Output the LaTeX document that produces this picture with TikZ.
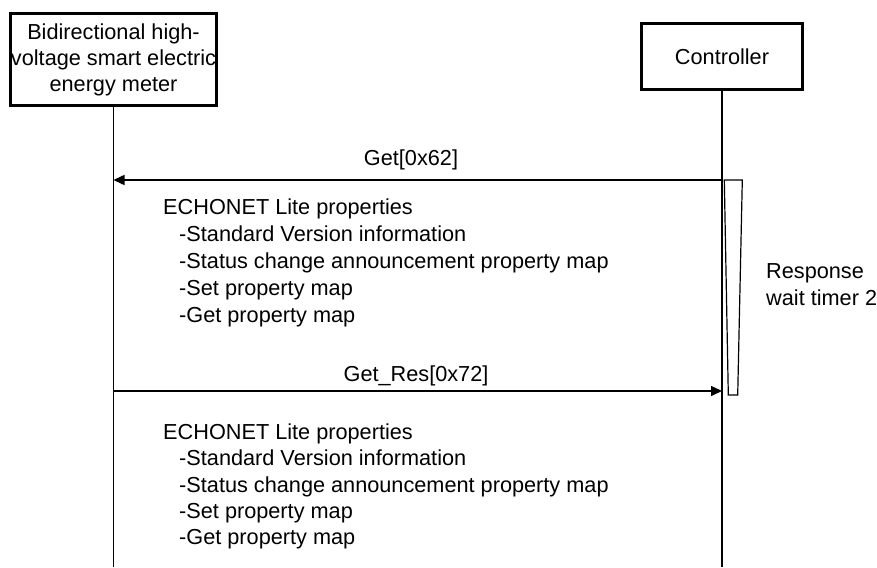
\documentclass[tikz,border=0pt]{standalone}
\usepackage{fontspec}
\setmainfont{Liberation Sans}
\usetikzlibrary{arrows.meta}
\begin{document}
\begin{tikzpicture}[x=1pt,y=-1pt,
  font=\fontsize{21.7}{26}\selectfont,
  actor/.style={draw,line width=3.3pt,inner sep=0pt,align=center},
  life/.style={line width=1.3pt},
  msg/.style={line width=1.5pt,-{Triangle[length=11pt,width=10pt]}},
  txt/.style={anchor=base west,inner sep=0pt},
  lbl/.style={anchor=base,inner sep=0pt}]
\useasboundingbox (0,0) rectangle (877,567);
% actors
\node[actor,minimum width=205.7pt,minimum height=91.7pt] (meter) at (113.5,59.5)
  {Bidirectional high-\\voltage smart electric\\energy meter};
\node[actor,minimum width=160.7pt,minimum height=65.7pt] (ctrl) at (722,56.5) {Controller};
% lifelines
\coordinate (mbot) at (113.5,567);
\coordinate (cbot) at (722,567);
\draw[life] (meter.south) -- (mbot);
\draw[life] (ctrl.south) -- (cbot);
% timer
\coordinate (t1) at (724.3,180);
\coordinate (t2) at (742.3,180);
\coordinate (t3) at (737.7,395);
\coordinate (t4) at (728.3,395);
\draw[line width=1.2pt] (t1) -- (t2) -- (t3) -- (t4) -- cycle;
\node[txt] (rw1) at (766,278) {Response};
\node[txt] (rw2) at (766,305) {wait timer 2};
% messages
\coordinate (g1) at (722,180);
\coordinate (g0) at (113.5,180);
\draw[msg] (g1) -- (g0);
\node[lbl] (glbl) at (411,165) {Get[0x62]};
\coordinate (r0) at (113.5,391);
\coordinate (r1) at (722,391);
\draw[msg] (r0) -- (r1);
\node[lbl] (rlbl) at (416,381) {Get\_Res[0x72]};
% property block 1
\node[txt] (a0) at (163,214) {ECHONET Lite properties};
\node[txt] (a1) at (179,241) {-Standard Version information};
\node[txt] (a2) at (179,268) {-Status change announcement property map};
\node[txt] (a3) at (179,295) {-Set property map};
\node[txt] (a4) at (179,322) {-Get property map};
% property block 2
\node[txt] (b0) at (163,439) {ECHONET Lite properties};
\node[txt] (b1) at (179,465.5) {-Standard Version information};
\node[txt] (b2) at (179,492) {-Status change announcement property map};
\node[txt] (b3) at (179,518) {-Set property map};
\node[txt] (b4) at (179,544) {-Get property map};
\end{tikzpicture}
\end{document}
